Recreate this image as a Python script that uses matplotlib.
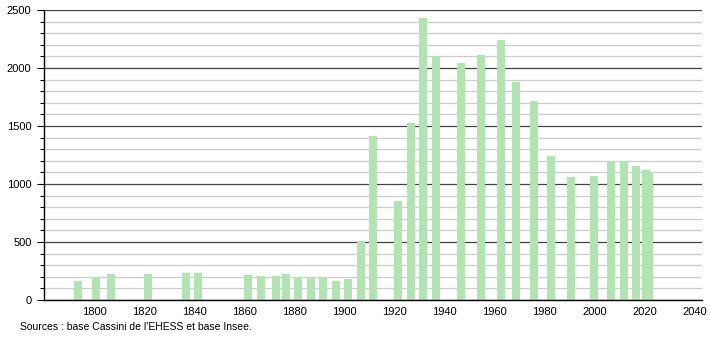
import matplotlib
matplotlib.use('Agg')
import matplotlib.pyplot as plt
from matplotlib.ticker import MultipleLocator

plt.rcParams['font.family'] = ['Liberation Sans', 'DejaVu Sans']

# census years and population
years = [1793, 1800, 1806, 1821, 1836, 1841, 1861, 1866, 1872, 1876,
         1881, 1886, 1891, 1896, 1901, 1906, 1911, 1921, 1926, 1931,
         1936, 1946, 1954, 1962, 1968, 1975, 1982, 1990, 1999, 2006,
         2011, 2016, 2020, 2021]
population = [164, 196, 224, 224, 233, 233, 215, 207, 207, 224,
              195, 193, 193, 167, 184, 508, 1416, 853, 1523, 2431,
              2103, 2043, 2112, 2241, 1879, 1715, 1241, 1060, 1069, 1196,
              1196, 1155, 1120, 1106]
xticks = list(range(1800, 2041, 20))
source_text = "Sources : base Cassini de l'EHESS et base Insee."

fig = plt.figure(figsize=(7.1, 3.4), dpi=100)
ax = fig.add_axes([0.062, 0.1176, 0.927, 0.853])

# grid: light minor lines every 100, dark major lines every 500
ax.yaxis.set_major_locator(MultipleLocator(500))
ax.yaxis.set_minor_locator(MultipleLocator(100))
ax.grid(axis='y', which='minor', color='#cccccc', linewidth=0.9, zorder=0)
ax.grid(axis='y', which='major', color='#444444', linewidth=0.9, zorder=0)
ax.set_axisbelow(True)

# bars sit slightly to the right of the census year, as in the source chart
bar_x = [y + 0.6 for y in years]
ax.bar(bar_x, population, width=3.2, align='center', color='#b2e4b2', zorder=2)

ax.set_xlim(1780, 2043)
ax.set_ylim(0, 2500)
ax.set_xticks(xticks)
ax.set_xticklabels([str(t) for t in xticks])

for s in ['top', 'right']:
    ax.spines[s].set_visible(False)
ax.spines['left'].set_linewidth(1)
ax.spines['bottom'].set_linewidth(1)

ax.tick_params(axis='x', length=0, labelsize=8, pad=5)
ax.tick_params(axis='y', which='major', length=5, width=0.8, labelsize=8, pad=4)
ax.tick_params(axis='y', which='minor', length=3, width=0.8)

fig.text(0.028, 0.038, source_text, fontsize=7.5, ha='left', va='center')

fig.savefig('out.png', dpi=100)
